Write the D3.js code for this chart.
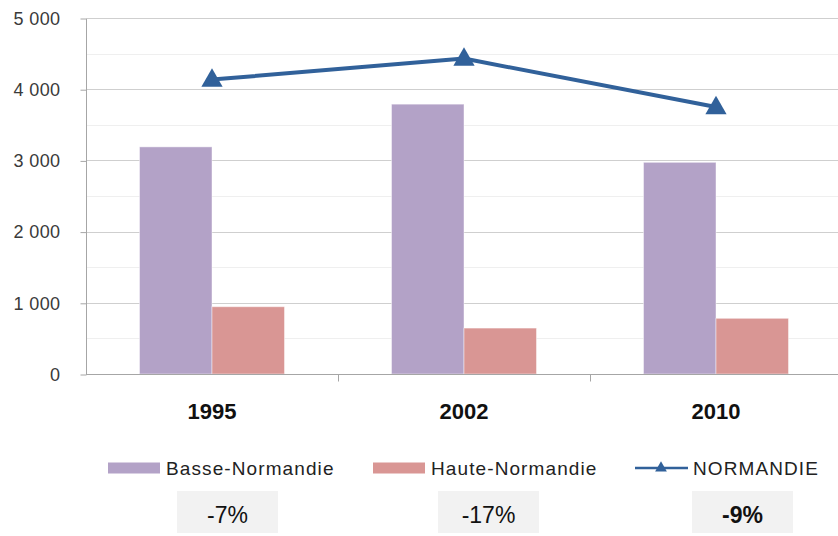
<!DOCTYPE html>
<html>
<head>
<meta charset="utf-8">
<script src="https://cdn.jsdelivr.net/npm/d3@7"></script>
<style>
  html, body { margin: 0; padding: 0; background: #fff; }
  svg { display: block; font-family: "Liberation Sans", Arial, sans-serif; }
</style>
</head>
<body>
<svg id="chart" width="838" height="536"></svg>
<script>
// ---- data ----
const years = ["1995", "2002", "2010"];
const basseNormandie = [3190, 3790, 2973];
const hauteNormandie = [945, 645, 782];
const normandie = [4135, 4430, 3750];
const seriesNames = ["Basse-Normandie", "Haute-Normandie", "NORMANDIE"];
const changes = ["-7%", "-17%", "-9%"];
const yTickValues = [0, 1000, 2000, 3000, 4000, 5000];
const yTickLabels = ["0", "1 000", "2 000", "3 000", "4 000", "5 000"];
const yMinorValues = [500, 1500, 2500, 3500, 4500];

(function () {
// ---- style ----
const colors = { basse: "#b3a2c7", haute: "#d99694", line: "#31619a" };

const svg = d3.select("#chart");
const W = 838, H = 536;
svg.append("rect").attr("width", W).attr("height", H).attr("fill", "#fff");

const pLeft = 86, pRight = 842, pTop = 18, pBottom = 374;

const x0 = d3.scaleBand().domain(years).range([pLeft, pRight])
  .paddingInner(0.4246).paddingOuter(0.2123);
const x1 = d3.scaleBand().domain(["basse", "haute"]).range([0, x0.bandwidth()]);
const y = d3.scaleLinear().domain([0, 5000]).range([pBottom, pTop]);

// minor gridlines
svg.append("g").selectAll("line").data(yMinorValues).join("line")
  .attr("x1", pLeft + 1).attr("x2", W)
  .attr("y1", d => Math.round(y(d)) + 0.5).attr("y2", d => Math.round(y(d)) + 0.5)
  .attr("stroke", "#efefef").attr("stroke-width", 1);

// major gridlines
svg.append("g").selectAll("line").data(yTickValues.filter(d => d > 0)).join("line")
  .attr("x1", pLeft + 1).attr("x2", W)
  .attr("y1", d => Math.round(y(d)) + 0.5).attr("y2", d => Math.round(y(d)) + 0.5)
  .attr("stroke", "#cfcfcf").attr("stroke-width", 1);

// bars
const barData = years.map((yr, i) => ({ yr, basse: basseNormandie[i], haute: hauteNormandie[i] }));
const groups = svg.append("g").selectAll("g").data(barData).join("g")
  .attr("transform", d => `translate(${x0(d.yr)},0)`);
groups.selectAll("rect").data(d => [{ k: "basse", v: d.basse }, { k: "haute", v: d.haute }]).join("rect")
  .attr("x", d => x1(d.k))
  .attr("width", x1.bandwidth())
  .attr("y", d => y(d.v))
  .attr("height", d => y(0) - y(d.v))
  .attr("fill", d => colors[d.k])
  .attr("stroke", "#ffffff").attr("stroke-opacity", 0.45).attr("stroke-width", 1);

// y axis
const yAxis = d3.axisLeft(y).tickValues(yTickValues)
  .tickFormat((d, i) => yTickLabels[i]).tickSize(6).tickPadding(20);
const gy = svg.append("g").attr("transform", `translate(${pLeft + 0.5},0.5)`).call(yAxis);
gy.select(".domain").attr("stroke", "#a6a6a6").attr("d", `M0,${y(5000)}V${y(0)}`);
gy.selectAll(".tick line").attr("stroke", "#a6a6a6");
gy.selectAll(".tick text").attr("font-size", 18).attr("fill", "#3a3a3a")
  .attr("letter-spacing", "0.4px").attr("font-family", "Liberation Sans, Arial, sans-serif");

// x axis
const gx = svg.append("g").attr("transform", `translate(0,${pBottom + 0.5})`);
gx.append("line").attr("x1", pLeft).attr("x2", W).attr("y1", 0).attr("y2", 0)
  .attr("stroke", "#a6a6a6");
const bx = d => Math.round(x0(d) - (x0.step() - x0.bandwidth()) / 2) + 0.5;
gx.selectAll("line.tk").data(years.slice(1)).join("line").attr("class", "tk")
  .attr("x1", bx).attr("x2", bx)
  .attr("y1", 0).attr("y2", 7).attr("stroke", "#a6a6a6");
gx.selectAll("text").data(years).join("text")
  .attr("x", d => x0(d) + x0.bandwidth() / 2)
  .attr("y", 418 - pBottom)
  .attr("text-anchor", "middle")
  .attr("font-size", 22).attr("font-weight", "bold").attr("fill", "#111")
  .text(d => d);

// line series
const lineData = years.map((yr, i) => ({ yr, v: normandie[i] }));
const cx = d => x0(d.yr) + x0.bandwidth() / 2;
svg.append("path").datum(lineData)
  .attr("d", d3.line().x(cx).y(d => y(d.v)))
  .attr("fill", "none").attr("stroke", colors.line).attr("stroke-width", 4)
  .attr("stroke-linejoin", "round");
svg.append("g").selectAll("path").data(lineData).join("path")
  .attr("transform", d => `translate(${cx(d)},${y(d.v) + 1})`)
  .attr("d", d3.symbol(d3.symbolTriangle, 195))
  .attr("fill", colors.line);

// legend
const legendX = [108, 373, 635];
const boxX = [177, 438, 692];
const legY = 468;
seriesNames.forEach((name, i) => {
  const g = svg.append("g").attr("transform", `translate(${legendX[i]},${legY})`);
  if (i < 2) {
    g.append("rect").attr("x", 0).attr("y", -5.5).attr("width", 52).attr("height", 11)
      .attr("fill", i === 0 ? colors.basse : colors.haute);
  } else {
    g.append("line").attr("x1", 0).attr("x2", 53).attr("y1", 0).attr("y2", 0)
      .attr("stroke", colors.line).attr("stroke-width", 2.5);
    g.append("path").attr("transform", "translate(26,0)")
      .attr("d", d3.symbol(d3.symbolTriangle, 60)).attr("fill", colors.line);
  }
  g.append("text").attr("x", 58).attr("y", 7)
    .attr("font-size", 19).attr("letter-spacing", "1.1px").attr("fill", "#222")
    .text(name);

  // change box
  const b = svg.append("g").attr("transform", `translate(${boxX[i]},491)`);
  b.append("rect").attr("width", 101).attr("height", 42).attr("fill", "#f2f2f2");
  b.append("text").attr("x", 50.5).attr("y", 32).attr("text-anchor", "middle")
    .attr("font-size", 23).attr("font-weight", i === 2 ? "bold" : "normal")
    .attr("fill", "#111").text(changes[i]);
});
})();
</script>
</body>
</html>
